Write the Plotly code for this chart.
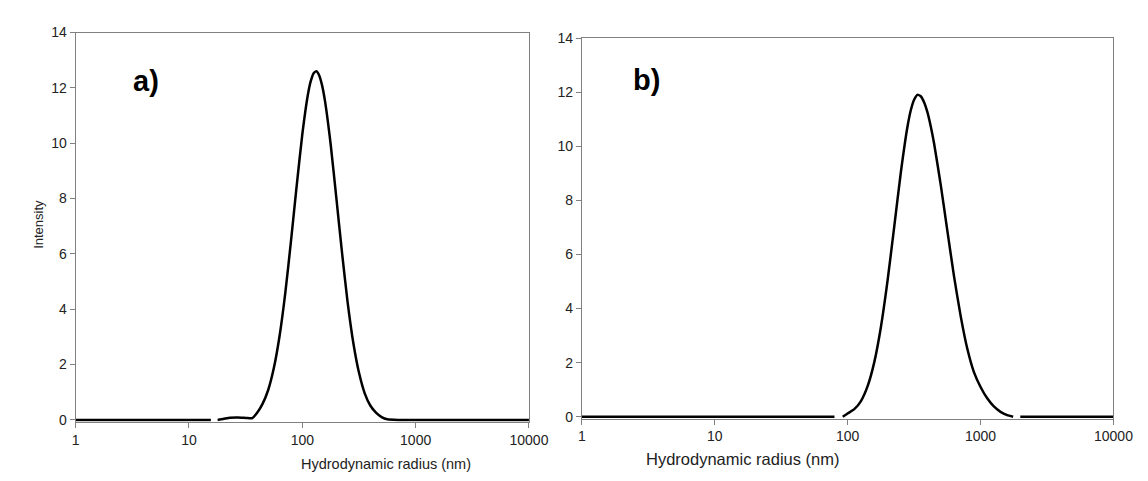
import plotly.graph_objects as go

# panel a) - hydrodynamic radius (nm) vs intensity, None = break in the trace
radius_a = [1, 15.6, 16.8, 17.9, 20, 23, 27, 32, 36, 39.8, 44.7, 50.1, 56.2, 63.1, 70.8,
            79.4, 89.1, 100, 112.2, 118.9, 125.9, 133.4, 141.3, 149.6, 158.5, 177.8, 199.5,
            223.9, 251.2, 281.8, 316.2, 354.8, 398.1, 446.7, 501.2, 562.3, 700, 1000, 10000]
intensity_a = [0, 0, None, 0, 0.03, 0.08, 0.09, 0.07, 0.06, 0.25, 0.59, 1.09, 1.89, 3.05, 4.59,
               6.45, 8.44, 10.32, 11.77, 12.25, 12.53, 12.6, 12.44, 12.08, 11.53, 9.97, 8.04,
               6.06, 4.25, 2.79, 1.71, 0.97, 0.52, 0.26, 0.1, 0.02, 0, 0, 0]

# panel b)
radius_b = [1, 79.6, 85, 91.8, 100, 112.2, 125.9, 141.3, 158.5, 177.8, 199.5, 223.9, 251.2,
            281.8, 298.5, 316.2, 335, 354.8, 375.8, 398.1, 421.7, 446.7, 501.2, 562.3, 631.0,
            707.9, 794.3, 891.3, 1000, 1122, 1259, 1413, 1585, 1758, 1870, 1990, 3000, 10000]
intensity_b = [0, 0, None, 0, 0.12, 0.28, 0.58, 1.13, 2.01, 3.31, 5.02, 7.01, 9.03,
               10.72, 11.33, 11.72, 11.9, 11.85, 11.63, 11.26, 10.74, 10.11, 8.58, 6.88, 5.20,
               3.73, 2.52, 1.65, 1.1, 0.68, 0.38, 0.18, 0.06, 0, None, 0, 0, 0]

x_ticks = [1, 10, 100, 1000, 10000]
x_ticktext = ["1", "10", "100", "1000", "10000"]
y_ticks = [0, 2, 4, 6, 8, 10, 12, 14]

W, H = 1148, 481
font = "Arial, Liberation Sans, sans-serif"
gray = "#808080"

fig = go.Figure()
fig.add_trace(go.Scatter(x=radius_a, y=intensity_a, mode="lines", xaxis="x", yaxis="y",
                         line=dict(color="black", width=2.5, shape="spline", smoothing=0.5),
                         connectgaps=False, showlegend=False))
fig.add_trace(go.Scatter(x=radius_b, y=intensity_b, mode="lines", xaxis="x2", yaxis="y2",
                         line=dict(color="black", width=2.5, shape="spline", smoothing=0.5),
                         connectgaps=False, showlegend=False))

xcommon = dict(type="log", range=[0, 4], tickmode="array", tickvals=x_ticks, ticktext=x_ticktext,
               showline=True, linecolor=gray, linewidth=1, mirror=True, ticks="outside",
               ticklen=5, tickcolor=gray, showgrid=False, zeroline=False,
               tickfont=dict(family=font, size=14, color="#222"))
ycommon = dict(range=[-0.07, 14], tickmode="array", tickvals=y_ticks,
               showline=True, linecolor=gray, linewidth=1, mirror=True, ticks="outside",
               ticklen=5, tickcolor=gray, showgrid=False, zeroline=False,
               tickfont=dict(family=font, size=14, color="#222"))

fig.update_layout(
    width=W, height=H,
    margin=dict(l=0, r=0, t=0, b=0),
    plot_bgcolor="white", paper_bgcolor="white",
    xaxis=dict(domain=[65 / W, 528 / W], anchor="y", **xcommon),
    yaxis=dict(domain=[(H - 418) / H, (H - 17) / H], anchor="x", **ycommon),
    xaxis2=dict(domain=[582 / W, 1125 / W], anchor="y2", **xcommon),
    yaxis2=dict(domain=[(H - 414.7) / H, (H - 22.7) / H], anchor="x2", **ycommon),
)

# text labels
fig.add_annotation(text="<b>a)</b>", x=122 / W, y=(H - 48) / H, xref="paper", yref="paper",
                   showarrow=False, font=dict(family=font, size=29, color="black"))
fig.add_annotation(text="<b>b)</b>", x=648 / W, y=(H - 47) / H, xref="paper", yref="paper",
                   showarrow=False, font=dict(family=font, size=29, color="black"))
fig.add_annotation(text="Intensity", x=18 / W, y=(H - 215) / H, xref="paper", yref="paper",
                   showarrow=False, textangle=-90, font=dict(family=font, size=13, color="#222"))
fig.add_annotation(text="Hydrodynamic radius (nm)", x=293 / W, y=(H - 472) / H,
                   xref="paper", yref="paper", showarrow=False,
                   font=dict(family=font, size=14.5, color="#222"))
fig.add_annotation(text="Hydrodynamic radius (nm)", x=847 / W, y=(H - 468) / H,
                   xref="paper", yref="paper", showarrow=False,
                   font=dict(family=font, size=16.5, color="#222"))

fig.write_html("out.html")
